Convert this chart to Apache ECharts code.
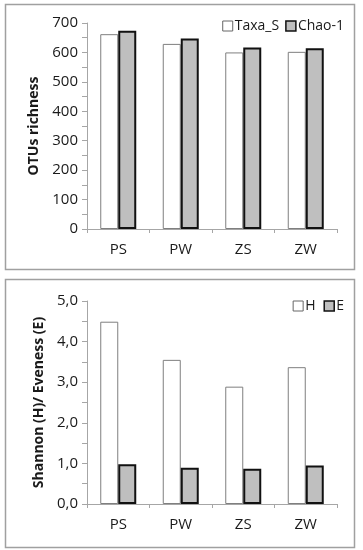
<!DOCTYPE html>
<html><head><meta charset="utf-8">
<script src="https://cdn.jsdelivr.net/npm/echarts@6/dist/echarts.min.js"></script>
<style>html,body{margin:0;padding:0;background:#fff}#c{width:363px;height:550px}</style>
</head><body><div id="c"></div>
<script>
var categories = ['PS', 'PW', 'ZS', 'ZW'];
var taxaS = [662, 629, 600, 602];
var chao1 = [674, 647, 617, 614];
var shannonH = [4.49, 3.55, 2.89, 3.37];
var evenessE = [0.98, 0.89, 0.87, 0.95];
var richTicks = [0, 700, 100];
var divTicks = [0, 5, 1];

var FONT = 'Open Sans';
var TXT = '#1a1a1a';
var AX = '#a6a6a6';
var whiteStyle = { color: '#ffffff', borderColor: '#7f7f7f', borderWidth: 1 };
var grayStyle = { color: '#bfbfbf', borderColor: '#111111', borderWidth: 2 };

function yAx(gi, t, name, gap, fmt) {
  return {
    type: 'value', gridIndex: gi, min: t[0], max: t[1], interval: t[2],
    name: name, nameLocation: 'middle', nameGap: gap,
    nameTextStyle: { fontFamily: FONT, fontWeight: 'bold', fontSize: 14, color: TXT },
    axisLine: { show: true, lineStyle: { color: AX, width: 1 } },
    axisTick: { show: true, length: 5, lineStyle: { color: AX } },
    minorTick: { show: true, splitNumber: 2, length: 5, lineStyle: { color: AX } },
    splitLine: { show: false },
    axisLabel: { fontFamily: FONT, fontSize: 15, color: TXT, margin: 9, formatter: fmt }
  };
}
function xAx(gi) {
  return {
    type: 'category', gridIndex: gi, data: categories,
    axisLine: { show: true, lineStyle: { color: AX, width: 1 } },
    axisTick: { show: true, length: 4, alignWithLabel: false, lineStyle: { color: AX } },
    axisLabel: { fontFamily: FONT, fontSize: 15, color: TXT, margin: 13 }
  };
}
function bar(name, gi, data, st) {
  return { name: name, type: 'bar', xAxisIndex: gi, yAxisIndex: gi, data: data,
    barWidth: 18, barGap: '0%', itemStyle: st, animation: false };
}
function legItems(a, b) {
  return [
    { name: a, itemStyle: { color: '#fff', borderColor: '#666', borderWidth: 1 } },
    { name: b, itemStyle: { color: '#bfbfbf', borderColor: '#111', borderWidth: 1.5 } }
  ];
}

var chart = echarts.init(document.getElementById('c'));
chart.setOption({
  animation: false,
  graphic: [
    { type: 'rect', shape: { x: 5.5, y: 4.5, width: 349, height: 265 }, style: { fill: 'none', stroke: '#a0a0a0', lineWidth: 1.5 }, z: 0 },
    { type: 'rect', shape: { x: 5.5, y: 279.5, width: 349, height: 268 }, style: { fill: 'none', stroke: '#a0a0a0', lineWidth: 1.5 }, z: 0 }
  ],
  grid: [
    { left: 87, right: 26, top: 23, bottom: 321 },
    { left: 87, right: 26, top: 301, bottom: 46 }
  ],
  legend: [
    { data: legItems('Taxa_S', 'Chao-1'), top: 14, right: 14, itemWidth: 10, itemHeight: 10, itemGap: 6,
      icon: 'rect', textStyle: { fontFamily: FONT, fontSize: 14, color: TXT, padding: [0, 0, 0, -3] } },
    { data: legItems('H', 'E'), top: 294, right: 14, itemWidth: 10, itemHeight: 10, itemGap: 8,
      icon: 'rect', textStyle: { fontFamily: FONT, fontSize: 14, color: TXT, padding: [0, 0, 0, -3] } }
  ],
  xAxis: [xAx(0), xAx(1)],
  yAxis: [
    yAx(0, richTicks, 'OTUs richness', 46, function (v) { return String(v); }),
    yAx(1, divTicks, 'Shannon (H)/ Eveness (E)', 41, function (v) { return v.toFixed(1).replace('.', ','); })
  ],
  series: [
    bar('Taxa_S', 0, taxaS, whiteStyle),
    bar('Chao-1', 0, chao1, grayStyle),
    bar('H', 1, shannonH, whiteStyle),
    bar('E', 1, evenessE, grayStyle)
  ]
});
</script></body></html>
